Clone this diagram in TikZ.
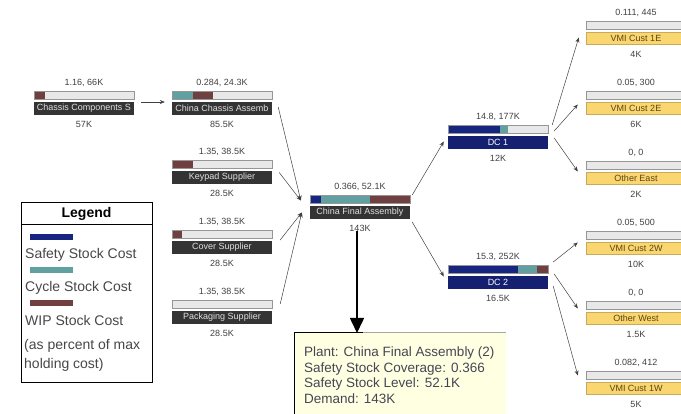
\documentclass[tikz,border=0pt]{standalone}
\usepackage{fontspec}
\setmainfont{Liberation Sans}
\usetikzlibrary{arrows.meta,calc}

\definecolor{ssnavy}{RGB}{22,38,128}
\definecolor{csteal}{RGB}{96,160,160}
\definecolor{wipbrown}{RGB}{112,64,64}
\definecolor{barfill}{RGB}{232,232,232}
\definecolor{barline}{RGB}{150,150,150}
\definecolor{plantbox}{RGB}{52,52,52}
\definecolor{dcbox}{RGB}{22,32,112}
\definecolor{custbox}{RGB}{250,214,112}
\definecolor{custtext}{RGB}{90,70,20}
\definecolor{tipfill}{RGB}{255,255,226}
\definecolor{tiptext}{RGB}{70,70,85}

% one inventory stage: cost bar, name box, value label above, demand below
% #1 name, #2 left x, #3 bar top y, #4 box style, #5 label, #6 value, #7 demand, #8 bar segments
\newcommand\stage[8]{%
  \begin{scope}[shift={(#2,#3)}]
    \node[barbg] (#1-bar) at (50,4) {};
    #8
    \draw[barline, line width=0.5pt] (#1-bar.north west) rectangle (#1-bar.south east);
    \node[#4] (#1) at (50,17.5) {#5};
    \node[valtxt] (#1-val) at (50,-8) {#6};
    \node[valtxt] (#1-dem) at (50,33) {#7};
  \end{scope}}
\newcommand\seg[3]{\fill[#1] (#2,0) rectangle (#3,8);}

\begin{document}
\begin{tikzpicture}[x=1pt,y=-1pt,
  boxbase/.style={minimum width=100pt, minimum height=13pt, inner sep=0pt,
    font=\fontsize{9}{10}\selectfont},
  plant/.style={boxbase, fill=plantbox, text=white!88!black},
  dc/.style={boxbase, fill=dcbox, text=white},
  cust/.style={boxbase, minimum height=12pt, fill=custbox, draw=custbox!80!black,
    line width=0.4pt, text=custtext},
  barbg/.style={minimum width=100pt, minimum height=8pt, inner sep=0pt, fill=barfill},
  valtxt/.style={font=\fontsize{9}{10}\selectfont, text=black!75, inner sep=0pt},
  conn/.style={draw=black!75, line width=0.5pt, -{Stealth[length=5pt,width=4pt]}},
  tiptxt/.style={font=\fontsize{13.5}{15}\selectfont, text=tiptext, inner sep=0pt},
  legtxt/.style={font=\fontsize{14}{16}\selectfont, text=black!72, inner sep=0pt},
  legbar/.style={minimum width=43pt, minimum height=6pt, inner sep=0pt}]
\clip (0,0) rectangle (681,414);

% stages
\stage{ccs}{34}{91}{plant}{Chassis Components S}{1.16, 66K}{57K}{\seg{wipbrown}{0}{11}}
\stage{cca}{172}{91}{plant}{China Chassis Assemb}{0.284, 24.3K}{85.5K}{\seg{csteal}{0}{21}\seg{wipbrown}{21}{41}}
\stage{kp}{172}{160}{plant}{Keypad Supplier}{1.35, 38.5K}{28.5K}{\seg{wipbrown}{0}{21}}
\stage{cv}{172}{230}{plant}{Cover Supplier}{1.35, 38.5K}{28.5K}{\seg{wipbrown}{0}{10}}
\stage{pk}{172}{300}{plant}{Packaging Supplier}{1.35, 38.5K}{28.5K}{}
\stage{fa}{310}{195}{plant}{China Final Assembly}{0.366, 52.1K}{143K}{\seg{ssnavy}{0}{11}\seg{csteal}{11}{60}\seg{wipbrown}{60}{100}}
\stage{dc1}{448}{125}{dc}{DC 1}{14.8, 177K}{12K}{\seg{ssnavy}{0}{52}\seg{csteal}{52}{60}}
\stage{dc2}{448}{265}{dc}{DC 2}{15.3, 252K}{16.5K}{\seg{ssnavy}{0}{70}\seg{csteal}{70}{89}\seg{wipbrown}{89}{100}}
\stage{c1e}{586}{21}{cust}{VMI Cust 1E}{0.111, 445}{4K}{}
\stage{c2e}{586}{91}{cust}{VMI Cust 2E}{0.05, 300}{6K}{}
\stage{coe}{586}{161}{cust}{Other East}{0, 0}{2K}{}
\stage{c2w}{586}{231}{cust}{VMI Cust 2W}{0.05, 500}{10K}{}
\stage{cow}{586}{301}{cust}{Other West}{0, 0}{1.5K}{}
\stage{c1w}{586}{371}{cust}{VMI Cust 1W}{0.082, 412}{5K}{}

% flows into final assembly
\coordinate (fa-in1) at ($(fa.west)+(-9,-12)$);
\coordinate (fa-in2) at ($(fa.west)+(-8,0)$);
\draw[conn] ($(ccs.east)+(7,-6.5)$) -- ($(cca.west)+(-7,-6.5)$);
\draw[conn] ($(cca.east)+(6,-1.5)$) -- (fa-in1);
\draw[conn] ($(kp.east)+(7,-5)$) -- (fa-in1);
\draw[conn] ($(cv.east)+(8,-7.5)$) -- (fa-in2);
\draw[conn] ($(pk.east)+(8,-13.5)$) -- (fa-in2);

% final assembly to distribution centres
\draw[conn] ($(fa-bar.east)+(2,-4)$) -- ($(dc1.west)+(-4,-1)$);
\draw[conn] ($(fa.east)+(2,9.5)$) -- ($(dc2.west)+(-4,-6)$);

% distribution centres to customers
\draw[conn] ($(dc1-bar.east)+(4,-4)$) -- ($(c1e.west)+(-7,-1)$);
\draw[conn] ($(dc1-bar.east)+(6,2)$) -- ($(c2e.west)+(-8,-4)$);
\draw[conn] ($(dc1.east)+(6,-4.5)$) -- ($(coe.west)+(-8,-7)$);
\draw[conn] ($(dc2-bar.east)+(5,-7)$) -- ($(c2w.west)+(-8,-6)$);
\draw[conn] ($(dc2-bar.east)+(6,5)$) -- ($(cow.west)+(-8,-10)$);
\draw[conn] ($(dc2.east)+(5,3.5)$) -- ($(c1w.west)+(-8,-13)$);

% tooltip
\node[fill=tipfill, minimum width=212pt, minimum height=90pt, inner sep=0pt,
  anchor=north west] (tip) at (294,333) {};
\draw[black!35, line width=1pt] ($(tip.north west)+(69,0)$) -- (tip.north east);
\draw[black, line width=1pt] (tip.south west) -- (tip.north west) -- ($(tip.north west)+(69,0)$);
\node[tiptxt, anchor=base west] (tip-l1) at (304,357) {Plant: China Final Assembly (2)};
\node[tiptxt, anchor=base west] (tip-l2) at (304,372.5) {Safety Stock Coverage: 0.366};
\node[tiptxt, anchor=base west] (tip-l3) at (304,388) {Safety Stock Level: 52.1K};
\node[tiptxt, anchor=base west] (tip-l4) at (304,403.5) {Demand: 143K};
\coordinate (tip-pin) at (357,333);
\draw[line width=1.6pt, -{Triangle[length=15pt,width=14pt]}] (fa-dem.south -| tip-pin) -- (tip-pin);

% legend
\node[draw=black, line width=1.2pt, fill=white, minimum width=131pt, minimum height=180pt,
  inner sep=0pt, anchor=north west] (legend) at (21,202) {};
\node[font=\bfseries\fontsize{14}{16}\selectfont, inner sep=0pt] (legend-title) at (86.5,214) {Legend};
\draw[line width=1pt] ($(legend.north west)+(0,23)$) -- ($(legend.north east)+(0,23)$);
\node[legbar, fill=ssnavy] (leg-ss) at (51.5,237) {};
\node[legtxt, anchor=base west] (leg-ss-txt) at (25,259) {Safety Stock Cost};
\node[legbar, fill=csteal] (leg-cs) at (51.5,270) {};
\node[legtxt, anchor=base west] (leg-cs-txt) at (25,292) {Cycle Stock Cost};
\node[legbar, fill=wipbrown] (leg-wip) at (51.5,303) {};
\node[legtxt, anchor=base west] (leg-wip-txt) at (25,325.5) {WIP Stock Cost};
\node[legtxt, anchor=base west] (leg-note1) at (24,349.5) {(as percent of max};
\node[legtxt, anchor=base west] (leg-note2) at (24,368.5) {holding cost)};
\end{tikzpicture}
\end{document}
